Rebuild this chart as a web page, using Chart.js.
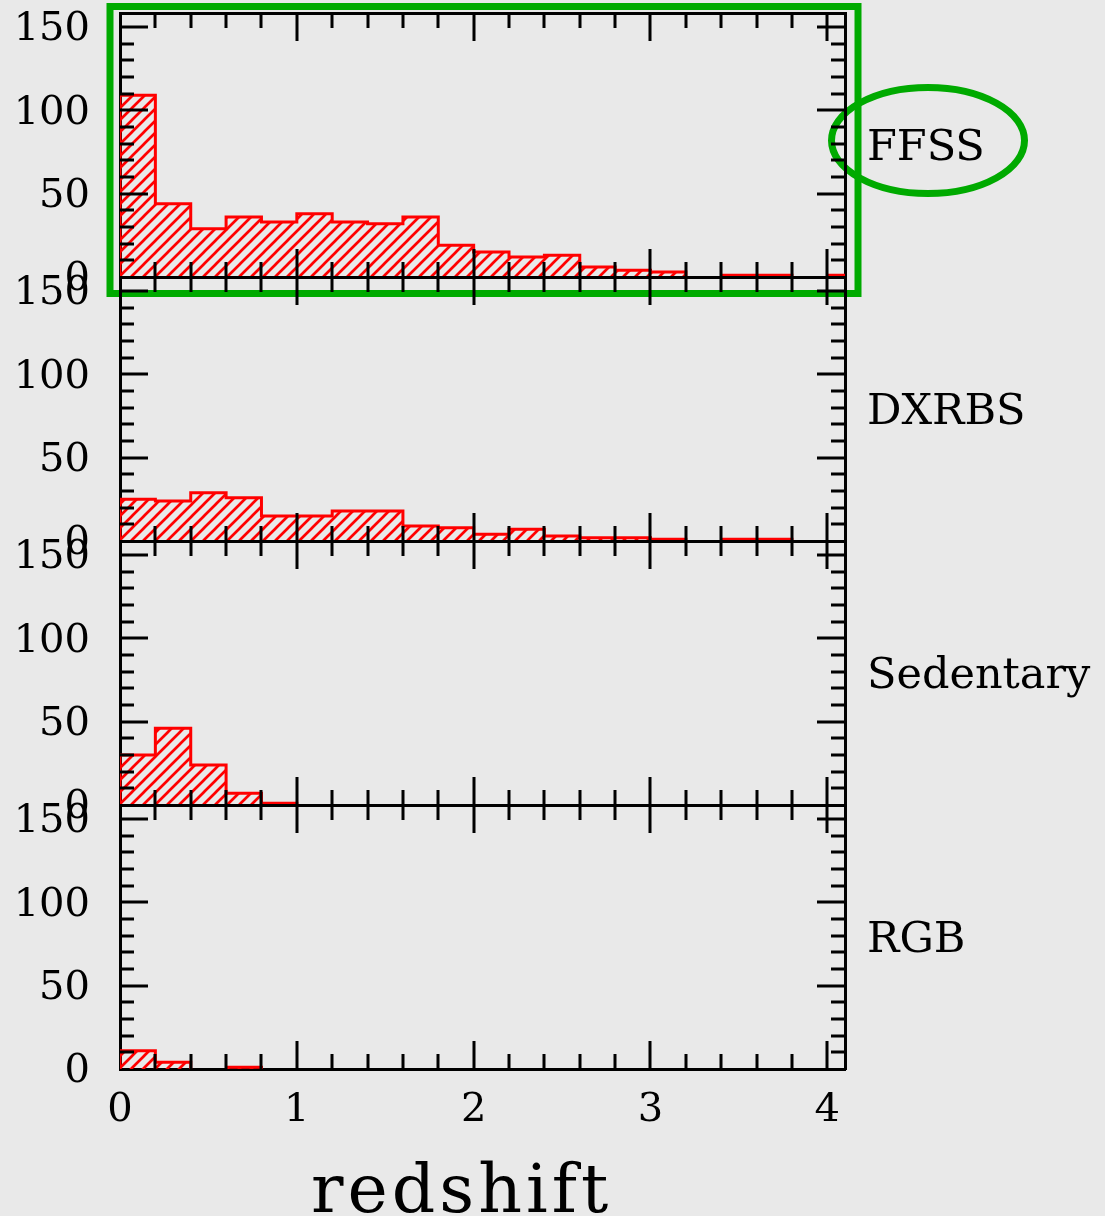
<!DOCTYPE html>
<html>
<head>
<meta charset="utf-8">
<script src="https://cdn.jsdelivr.net/npm/chart.js@4.4.1/dist/chart.umd.min.js"></script>
<style>
  html, body { margin: 0; padding: 0; background: #e9e9e9; }
  #wrap { position: relative; width: 1105px; height: 1216px; overflow: hidden; }
  #wrap canvas { position: absolute; left: 0; top: 0; }
</style>
</head>
<body>
<div id="wrap">
  <canvas id="c0" width="1105" height="1216"></canvas>
  <canvas id="c1" width="1105" height="1216"></canvas>
  <canvas id="c2" width="1105" height="1216"></canvas>
  <canvas id="c3" width="1105" height="1216"></canvas>
</div>
<script>
// redshift bins (width 0.2)
const binStarts = [0, 0.2, 0.4, 0.6, 0.8, 1.0, 1.2, 1.4, 1.6, 1.8, 2.0,
                   2.2, 2.4, 2.6, 2.8, 3.0, 3.2, 3.4, 3.6, 3.8, 4.0];
const binWidth = 0.2;

// counts per bin, one array per survey
const ffss      = [109, 44, 29, 36, 33, 38, 33, 32, 36, 19, 15, 12, 13, 6, 4, 3, 0, 1, 1, 0, 1];
const dxrbs     = [25, 24, 29, 26, 15, 15, 18, 18, 9, 8, 4, 7, 3, 2, 2, 1, 0, 1, 1, 0, 0];
const sedentary = [30, 46, 24, 7, 1, 0, 0, 0, 0, 0, 0, 0, 0, 0, 0, 0, 0, 0, 0, 0, 0];
const rgb       = [11, 4, 0, 1, 0, 0, 0, 0, 0, 0, 0, 0, 0, 0, 0, 0, 0, 0, 0, 0, 0];

const panelNames = ['FFSS', 'DXRBS', 'Sedentary', 'RGB'];
const panelCounts = [ffss, dxrbs, sedentary, rgb];

const xTickLabels = ['0', '1', '2', '3', '4'];
const yTickLabels = ['0', '50', '100', '150'];
const xTitle = 'redshift';

const XMAX = 4.1, YMAX = 158.4;
const PANEL_TOP = 13, PANEL_H = 264;
const LEFT = 120, RIGHT_PAD = 260, XLABEL_H = 80;
const GREEN = '#00aa00';
const FONT = '"DejaVu Serif", "Liberation Serif", serif';

// hatch pattern  ////
function makeHatch() {
  const p = document.createElement('canvas');
  p.width = 12; p.height = 12;
  const c = p.getContext('2d');
  c.strokeStyle = '#ff0000';
  c.lineWidth = 2.7;
  c.beginPath();
  c.moveTo(-1, 13); c.lineTo(13, -1);
  c.moveTo(-7, 7); c.lineTo(7, -7);
  c.moveTo(5, 19); c.lineTo(19, 5);
  c.stroke();
  return c.createPattern(p, 'repeat');
}
const hatch = makeHatch();

function histPoints(counts) {
  const pts = [{x: binStarts[0], y: 0}];
  counts.forEach((v, i) => pts.push({x: binStarts[i], y: v}));
  pts.push({x: binStarts[binStarts.length - 1] + binWidth, y: 0});
  return pts;
}

// inward tick marks on all four sides, plus panel names
const tickPlugin = {
  id: 'inTicks',
  afterDatasetsDraw(chart) {
    const {ctx, chartArea: a} = chart;
    const xs = chart.scales.x, ys = chart.scales.y;
    ctx.save();
    ctx.strokeStyle = '#000';
    ctx.lineWidth = 3;
    ctx.beginPath();
    for (let i = 1; i * binWidth <= XMAX; i++) {
      const px = Math.round(xs.getPixelForValue(i * binWidth));
      const len = i % 5 === 0 ? 28 : 15;
      ctx.moveTo(px, a.bottom); ctx.lineTo(px, a.bottom - len);
      ctx.moveTo(px, a.top); ctx.lineTo(px, a.top + len);
    }
    for (let i = 1; i * 10 < YMAX; i++) {
      const py = Math.round(ys.getPixelForValue(i * 10));
      const len = i % 5 === 0 ? 28 : 14;
      ctx.moveTo(a.left, py); ctx.lineTo(a.left + len, py);
      ctx.moveTo(a.right, py); ctx.lineTo(a.right - len, py);
    }
    ctx.stroke();
    ctx.restore();
  },
  afterDraw(chart, args, opts) {
    const {ctx, chartArea: a} = chart;
    const ys = chart.scales.y;
    ctx.save();
    ctx.fillStyle = '#000';
    ctx.font = '43px ' + FONT;
    ctx.textBaseline = 'alphabetic';
    ctx.fillText(opts.name, a.right + 22, ys.getPixelForValue(80) + 16);
    if (opts.last) {
      ctx.font = '68px ' + FONT;
      ctx.letterSpacing = '4px';
      ctx.fillText(xTitle, 311, 1212);
    }
    ctx.restore();
  }
};

// green highlight round the first panel
const markPlugin = {
  id: 'mark',
  beforeDraw(chart, args, opts) {
    if (!opts.on) return;
    const {ctx, chartArea: a} = chart;
    ctx.save();
    ctx.strokeStyle = GREEN;
    ctx.lineWidth = 7;
    ctx.strokeRect(a.left - 10, a.top - 6.5, a.right - a.left + 23, a.bottom - a.top + 23);
    ctx.beginPath();
    ctx.ellipse(928, 140.5, 96.5, 53, 0, 0, Math.PI * 2);
    ctx.stroke();
    ctx.restore();
  }
};

function fixSize(size) {
  return s => {
    if (s.isHorizontal()) s.height = size; else s.width = size;
    s.paddingTop = 0; s.paddingBottom = 0; s.paddingLeft = 0; s.paddingRight = 0;
  };
}

panelCounts.forEach((counts, k) => {
  const top = PANEL_TOP + PANEL_H * k;
  const bottom = top + PANEL_H;
  const last = k === panelCounts.length - 1;
  const xh = last ? XLABEL_H : 0;
  new Chart(document.getElementById('c' + k), {
    type: 'line',
    data: {
      datasets: [{
        data: histPoints(counts),
        stepped: true,
        fill: 'origin',
        backgroundColor: hatch,
        borderColor: '#ff0000',
        borderWidth: 3,
        pointRadius: 0,
        segment: {
          borderColor: c => (c.p0.parsed.y === 0 && c.p0.parsed.x > 0) ? 'rgba(0,0,0,0)' : undefined
        }
      }]
    },
    options: {
      responsive: false,
      animation: false,
      devicePixelRatio: 1,
      layout: {padding: {left: 0, right: RIGHT_PAD, top: top, bottom: 1216 - bottom - xh}},
      plugins: {
        legend: {display: false},
        tooltip: {enabled: false},
        inTicks: {name: panelNames[k], last: last},
        mark: {on: k === 0}
      },
      scales: {
        x: {
          type: 'linear', position: 'bottom', min: 0, max: XMAX, z: 1,
          grid: {display: false, drawTicks: false, tickLength: 0},
          border: {display: true, color: '#000', width: 3},
          afterFit: fixSize(xh),
          ticks: {
            display: last, stepSize: 1, includeBounds: false, padding: 18,
            color: '#000', font: {family: FONT, size: 40},
            maxRotation: 0, autoSkip: false,
            callback: (v, i) => xTickLabels[i]
          }
        },
        x2: {
          type: 'linear', position: 'top', min: 0, max: XMAX, z: 1,
          grid: {display: false, drawTicks: false},
          border: {display: true, color: '#000', width: 3},
          afterFit: fixSize(0),
          ticks: {display: false}
        },
        y: {
          type: 'linear', position: 'left', min: 0, max: YMAX, z: 1,
          grid: {display: false, drawTicks: false, tickLength: 0},
          border: {display: true, color: '#000', width: 3},
          afterFit: fixSize(LEFT),
          ticks: {
            stepSize: 50, includeBounds: false, padding: 30, autoSkip: false,
            labelOffset: 3,
            color: '#000', font: {family: FONT, size: 40},
            callback: (v, i) => yTickLabels[i]
          }
        },
        y2: {
          type: 'linear', position: 'right', min: 0, max: YMAX, z: 1,
          grid: {display: false, drawTicks: false},
          border: {display: true, color: '#000', width: 3},
          afterFit: fixSize(0),
          ticks: {display: false}
        }
      }
    },
    plugins: [markPlugin, tickPlugin]
  });
});
</script>
</body>
</html>
